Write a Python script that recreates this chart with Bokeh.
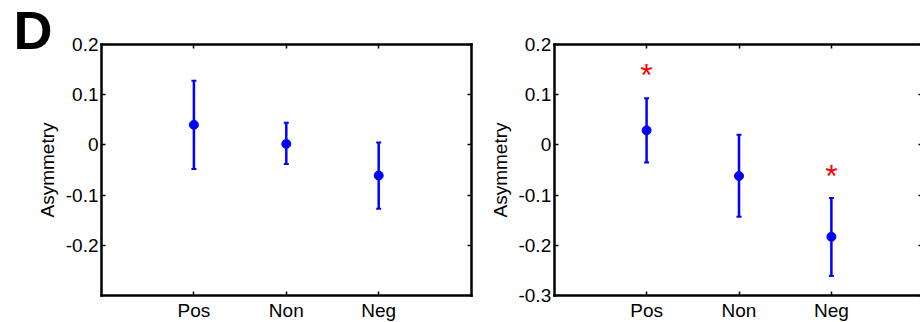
from bokeh.plotting import figure
from bokeh.models import (FixedTicker, LinearAxis, Range1d, Whisker, TeeHead,
                          ColumnDataSource)
from bokeh.layouts import row
from bokeh.embed import file_html
from bokeh.resources import INLINE
from bokeh.core.properties import value

# ---------------- data ----------------
categories = ["Pos", "Non", "Neg"]
cat_x = [1, 2, 3]

left_mean = [0.040, 0.002, -0.061]
left_upper = [0.128, 0.044, 0.005]
left_lower = [-0.048, -0.038, -0.127]

right_mean = [0.029, -0.062, -0.183]
right_upper = [0.093, 0.020, -0.106]
right_lower = [-0.035, -0.143, -0.261]

star_x = [1, 3]            # Pos, Neg significant
star_y = [0.143, -0.058]

left_yticks = [-0.2, -0.1, 0.0, 0.1, 0.2]
right_yticks = [-0.3, -0.2, -0.1, 0.0, 0.1, 0.2]

Y_MIN, Y_MAX = -0.3, 0.2
X_MIN, X_MAX = 0, 4

FONT = "Liberation Sans"
BLUE = "#0000ff"
RED = "#ff0000"
FS = "19px"

# layout (pixels)
H = 322
TOP_PX, BOTTOM_PX = 44, 295          # frame top / bottom on the canvas
SY = (BOTTOM_PX - TOP_PX) / (Y_MAX - Y_MIN)
SX = 92.4                             # px per category step


def fmt(v):
    return f"{v:g}"


def make_panel(width, x0_px, mean, upper, lower, yticks, right_at,
               stars=None, right_line=True):
    x_range = Range1d(-x0_px / SX, (width - x0_px) / SX)
    y_range = Range1d(Y_MIN - (H - BOTTOM_PX) / SY, Y_MAX + TOP_PX / SY)
    p = figure(width=width, height=H, x_range=x_range, y_range=y_range,
               output_backend="svg", toolbar_location=None,
               min_border_left=0, min_border_right=0, min_border_top=0,
               min_border_bottom=0)
    p.title.visible = False
    p.xgrid.visible = False
    p.ygrid.visible = False
    p.outline_line_color = None
    p.background_fill_color = "white"
    p.border_fill_color = "white"

    bottom_ax = p.below[0]
    left_ax = p.left[0]
    right_ax = LinearAxis()
    top_ax = LinearAxis()
    p.add_layout(right_ax, "right")
    p.add_layout(top_ax, "above")

    bottom_ax.fixed_location = Y_MIN
    top_ax.fixed_location = Y_MAX
    left_ax.fixed_location = X_MIN
    right_ax.fixed_location = right_at
    for ax in [bottom_ax, top_ax]:
        ax.ticker = FixedTicker(ticks=cat_x, minor_ticks=[])
        ax.bounds = (X_MIN, max(X_MAX, right_at))
    for ax in [left_ax, right_ax]:
        ax.ticker = FixedTicker(ticks=yticks, minor_ticks=[])
        ax.bounds = (Y_MIN, Y_MAX)

    for ax in [bottom_ax, left_ax, right_ax, top_ax]:
        ax.axis_line_color = "black"
        ax.axis_line_width = 2.5
        ax.axis_line_cap = "square"
        ax.major_tick_in = 4
        ax.major_tick_out = 0
        ax.major_tick_line_width = 1.5
        ax.major_tick_line_color = "black"
        ax.minor_tick_line_color = None
        ax.major_label_text_font = FONT
        ax.major_label_text_font_size = FS
        ax.major_label_text_color = "black"

    bottom_ax.major_label_overrides = {x: c for x, c in zip(cat_x, categories)}
    bottom_ax.major_label_standoff = 4
    left_ax.major_label_overrides = {v: fmt(v) for v in yticks}
    left_ax.major_label_standoff = 3
    left_ax.axis_label = "Asymmetry"
    left_ax.axis_label_text_font = FONT
    left_ax.axis_label_text_font_size = FS
    left_ax.axis_label_text_font_style = "normal"
    left_ax.axis_label_text_color = "black"
    left_ax.axis_label_standoff = 5

    for ax in [right_ax, top_ax]:
        ax.major_label_text_font_size = "1px"
        ax.major_label_text_color = None
        ax.major_label_standoff = 0
    if not right_line:
        right_ax.axis_line_color = None

    src = ColumnDataSource(dict(x=cat_x, mean=mean, upper=upper, lower=lower))
    w = Whisker(base="x", upper="upper", lower="lower", source=src,
                dimension="height", line_color=BLUE, line_width=2.5,
                upper_head=TeeHead(size=5, line_color=BLUE, line_width=2),
                lower_head=TeeHead(size=5, line_color=BLUE, line_width=2))
    p.add_layout(w)
    p.scatter("x", "mean", source=src, size=9, marker="circle",
              fill_color=BLUE, line_color=BLUE)

    if stars is not None:
        sx, sy = stars
        p.text(x=sx, y=sy, text=["*"] * len(sx), text_color=RED,
               text_font=value(FONT), text_font_size="32px",
               text_align="center", text_baseline="alphabetic", y_offset=2)
    return p


p1 = make_panel(481, 101, left_mean, left_upper, left_lower, left_yticks,
                right_at=X_MAX)
# panel letter "D" (top-left corner of the figure)
p1.text(x=[-88 / SX], y=[Y_MAX + 14.7 / SY], text=["D"], text_color="black",
        text_font=value(FONT), text_font_size="54px", text_font_style="bold",
        text_align="left", text_baseline="alphabetic")

p2 = make_panel(439, 72.7, right_mean, right_upper, right_lower, right_yticks,
                right_at=3.985, stars=(star_x, star_y))

layout = row(p1, p2)
open("out.html", "w").write(file_html(layout, INLINE))
